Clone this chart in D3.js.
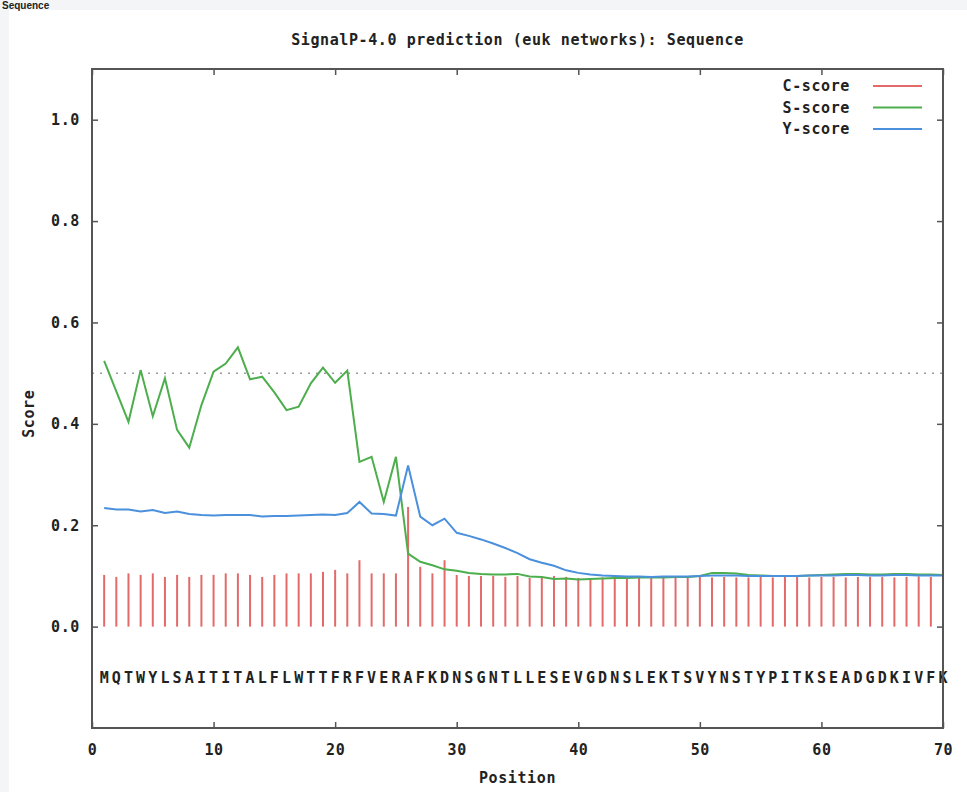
<!DOCTYPE html>
<html>
<head>
<meta charset="utf-8">
<script src="https://cdn.jsdelivr.net/npm/d3@7"></script>
<style>
  body { margin: 0; background: #f4f5f6; }
  svg { display: block; }
  text { font-family: 'DejaVu Sans Mono', monospace; font-weight: bold; fill: #222; }
  .axis text { font-size: 15px; letter-spacing: 0.6px; }
</style>
</head>
<body>
<svg width="967" height="792"></svg>
<script>
// values, positions 1..70
const sequence = 'MQTWYLSAITITALFLWTTFRFVERAFKDNSGNTLLESEVGDNSLEKTSVYNSTYPITKSEADGDKIVFK';

const cScore = [
  0.102, 0.098, 0.105, 0.102, 0.105, 0.098, 0.102, 0.098, 0.102, 0.102,
  0.105, 0.105, 0.102, 0.098, 0.102, 0.105, 0.105, 0.105, 0.108, 0.112,
  0.105, 0.131, 0.105, 0.105, 0.105, 0.236, 0.118, 0.105, 0.131, 0.102,
  0.100, 0.100, 0.100, 0.098, 0.100, 0.096, 0.096, 0.100, 0.098, 0.096,
  0.096, 0.097, 0.097, 0.096, 0.097, 0.097, 0.096, 0.097, 0.097, 0.098,
  0.097, 0.098, 0.097, 0.097, 0.098, 0.097, 0.098, 0.098, 0.097, 0.098,
  0.098, 0.097, 0.098, 0.098, 0.098, 0.097, 0.098, 0.099, 0.098, 0.097
];

const sScore = [
  0.524, 0.464, 0.404, 0.506, 0.415, 0.490, 0.388, 0.353, 0.437, 0.503,
  0.519, 0.551, 0.488, 0.493, 0.462, 0.427, 0.434, 0.480, 0.511, 0.481,
  0.505, 0.325, 0.335, 0.246, 0.335, 0.144, 0.128, 0.121, 0.113, 0.110,
  0.106, 0.104, 0.103, 0.103, 0.104, 0.099, 0.098, 0.094, 0.095, 0.093,
  0.094, 0.095, 0.096, 0.096, 0.097, 0.097, 0.097, 0.098, 0.098, 0.100,
  0.106, 0.106, 0.105, 0.102, 0.101, 0.100, 0.100, 0.100, 0.101, 0.102,
  0.103, 0.104, 0.104, 0.103, 0.103, 0.104, 0.104, 0.103, 0.103, 0.102
];

const yScore = [
  0.234, 0.231, 0.231, 0.227, 0.230, 0.224, 0.227, 0.222, 0.220, 0.219,
  0.220, 0.220, 0.220, 0.217, 0.218, 0.218, 0.219, 0.220, 0.221, 0.220,
  0.224, 0.246, 0.223, 0.222, 0.219, 0.318, 0.217, 0.200, 0.213, 0.185,
  0.179, 0.172, 0.164, 0.155, 0.145, 0.133, 0.126, 0.120, 0.111, 0.106,
  0.103, 0.101, 0.100, 0.099, 0.099, 0.098, 0.099, 0.099, 0.099, 0.100,
  0.101, 0.101, 0.101, 0.100, 0.100, 0.100, 0.100, 0.100, 0.101, 0.101,
  0.101, 0.102, 0.102, 0.101, 0.101, 0.102, 0.102, 0.101, 0.101, 0.101
];

const xTicks = [0, 10, 20, 30, 40, 50, 60, 70];
const yTicks = [0, 0.2, 0.4, 0.6, 0.8, 1.0];
const threshold = 0.5;
const seriesNames = ['C-score', 'S-score', 'Y-score'];
const seriesColors = ['#e46a6a', '#4cae4c', '#4a90dc'];

const svg = d3.select('svg');
const margin = { top: 69, bottom: 64, right: 24, left: 92 };
const width = +svg.attr('width');
const height = +svg.attr('height');

// page frame
svg.append('rect')
  .attr('x', 9).attr('y', 10)
  .attr('width', width - 9).attr('height', height - 10)
  .attr('fill', '#fff');

svg.append('text')
  .attr('x', 2).attr('y', 9)
  .style('font-family', 'Liberation Sans, sans-serif')
  .style('font-size', '10px')
  .text('Sequence');

const xScale = d3.scaleLinear()
  .domain([0, 70])
  .range([margin.left, width - margin.right]);
const yScale = d3.scaleLinear()
  .domain([-0.2, 1.1])
  .range([height - margin.bottom, margin.top]);

const plotLeft = xScale(0), plotRight = xScale(70);
const plotTop = yScale(1.1), plotBottom = yScale(-0.2);

// title
svg.append('text')
  .attr('x', (plotLeft + plotRight) / 2)
  .attr('y', 40)
  .attr('dy', '0.35em')
  .style('text-anchor', 'middle')
  .style('font-size', '15px')
  .style('letter-spacing', '0.6px')
  .text('SignalP-4.0 prediction (euk networks): Sequence');

// axes, ticks pointing inward like gnuplot
const bottomAxis = svg.append('g').attr('class', 'axis')
  .attr('transform', `translate(0, ${plotBottom})`)
  .call(d3.axisBottom(xScale).tickValues(xTicks).tickSize(-6).tickPadding(16));
const topAxis = svg.append('g').attr('class', 'axis')
  .attr('transform', `translate(0, ${plotTop})`)
  .call(d3.axisTop(xScale).tickValues(xTicks).tickSize(-6).tickFormat(''));
const leftAxis = svg.append('g').attr('class', 'axis')
  .attr('transform', `translate(${plotLeft}, 0)`)
  .call(d3.axisLeft(yScale).tickValues(yTicks).tickSize(-6).tickPadding(12)
    .tickFormat(d3.format('.1f')));
const rightAxis = svg.append('g').attr('class', 'axis')
  .attr('transform', `translate(${plotRight}, 0)`)
  .call(d3.axisRight(yScale).tickValues(yTicks).tickSize(-6).tickFormat(''));

[bottomAxis, topAxis, leftAxis, rightAxis].forEach(g => {
  g.select('.domain').remove();
  g.selectAll('.tick line').attr('stroke', '#555').attr('stroke-width', 1.5);
});

// axis titles
svg.append('text')
  .attr('x', (plotLeft + plotRight) / 2)
  .attr('y', 778)
  .attr('dy', '0.35em')
  .style('text-anchor', 'middle')
  .style('font-size', '15px')
  .style('letter-spacing', '0.6px')
  .text('Position');
svg.append('text')
  .attr('transform', `translate(29, ${yScale(0.42)}) rotate(-90)`)
  .attr('dy', '0.35em')
  .style('text-anchor', 'middle')
  .style('font-size', '15px')
  .style('letter-spacing', '0.6px')
  .text('Score');

// threshold line
svg.append('line')
  .attr('x1', plotLeft).attr('x2', plotRight)
  .attr('y1', yScale(threshold)).attr('y2', yScale(threshold))
  .attr('stroke', '#999')
  .attr('stroke-width', 1.5)
  .attr('stroke-dasharray', '2,6');

const positions = d3.range(1, sequence.length + 1);

// C-score impulses
svg.append('g')
  .selectAll('line')
  .data(cScore)
  .enter()
  .append('line')
    .attr('x1', (d, i) => xScale(positions[i]))
    .attr('x2', (d, i) => xScale(positions[i]))
    .attr('y1', yScale(0))
    .attr('y2', d => yScale(d))
    .attr('stroke', seriesColors[0])
    .attr('stroke-width', 2);

const line = d3.line()
  .x((d, i) => xScale(positions[i]))
  .y(d => yScale(d));

svg.append('path')
  .datum(sScore)
  .attr('d', line)
  .attr('fill', 'none')
  .attr('stroke', seriesColors[1])
  .attr('stroke-width', 2);
svg.append('path')
  .datum(yScore)
  .attr('d', line)
  .attr('fill', 'none')
  .attr('stroke', seriesColors[2])
  .attr('stroke-width', 2);

// sequence letters along y = -0.1
svg.append('g')
  .selectAll('text')
  .data(sequence.split(''))
  .enter()
  .append('text')
    .attr('x', (d, i) => xScale(positions[i]))
    .attr('y', yScale(-0.1))
    .attr('dy', '0.35em')
    .style('text-anchor', 'middle')
    .style('font-size', '15px')
    .text(d => d);

// legend
const legend = svg.append('g');
seriesNames.forEach((name, i) => {
  const ly = 86 + i * 21.5;
  legend.append('text')
    .attr('x', 850).attr('y', ly)
    .attr('dy', '0.35em')
    .style('text-anchor', 'end')
    .style('font-size', '15px')
    .style('letter-spacing', '0.6px')
    .text(name);
  legend.append('line')
    .attr('x1', 873).attr('x2', 922)
    .attr('y1', ly).attr('y2', ly)
    .attr('stroke', seriesColors[i])
    .attr('stroke-width', 2);
});

// frame
svg.append('rect')
  .attr('x', plotLeft).attr('y', plotTop)
  .attr('width', plotRight - plotLeft)
  .attr('height', plotBottom - plotTop)
  .attr('fill', 'none')
  .attr('stroke', '#555')
  .attr('stroke-width', 2);
</script>
</body>
</html>
